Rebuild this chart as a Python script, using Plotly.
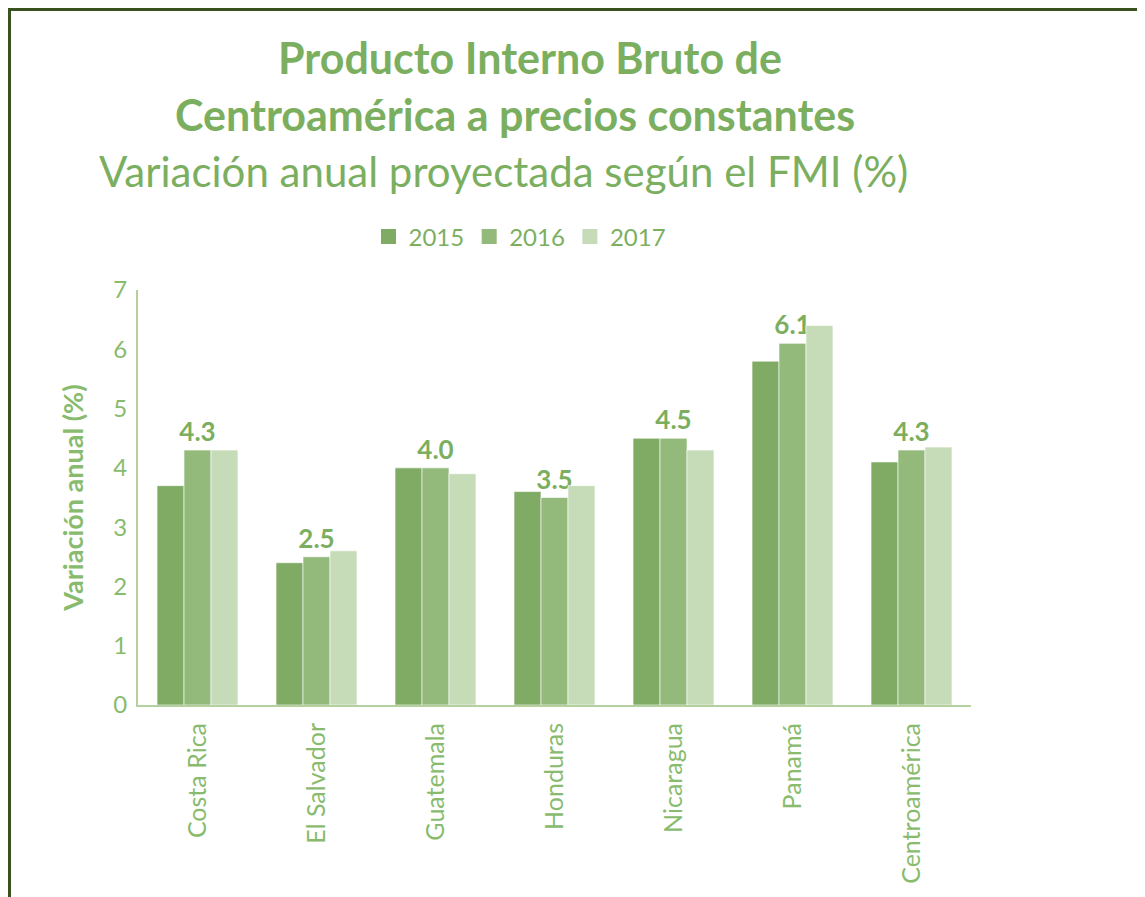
import plotly.graph_objects as go

categories = ["Costa Rica", "El Salvador", "Guatemala", "Honduras", "Nicaragua", "Panamá", "Centroamérica"]
years = ["2015", "2016", "2017"]
v2015 = [3.7, 2.4, 4.0, 3.6, 4.5, 5.8, 4.1]
v2016 = [4.3, 2.5, 4.0, 3.5, 4.5, 6.1, 4.3]
v2017 = [4.3, 2.6, 3.9, 3.7, 4.3, 6.4, 4.35]
labels2016 = ["4.3", "2.5", "4.0", "3.5", "4.5", "6.1", "4.3"]

colors = ["#80AB65", "#93BA7B", "#C6DBB8"]
title_green = "#7BAF5F"
tick_green = "#88BB6D"
axis_green = "#B2D19F"
font = "Lato"

fig = go.Figure()
for name, vals, col in zip(years, [v2015, v2016, v2017], colors):
    kw = {}
    if name == "2016":
        kw = dict(text=labels2016, textposition="outside", cliponaxis=False, constraintext="none",
                  textfont=dict(family=font, size=26, color=title_green, weight="bold"))
    fig.add_trace(go.Bar(x=categories, y=vals, name=name, marker_color=col, showlegend=False,
                         legendgroup=name,
                         marker_line=dict(color="rgba(255,255,255,0.6)", width=1), **kw))
# legend entries with larger square swatches
for name, col in zip(years, colors):
    fig.add_trace(go.Scatter(x=[None], y=[None], mode="markers", name=name, legendgroup=name,
                             marker=dict(symbol="square", size=15, color=col)))

OFF = 8  # page body margin
W, H = 1145 - OFF, 897 - OFF
L, R, T, B = 138 - OFF, 971 - OFF, 290 - OFF, 705 - OFF
pw, ph = R - L, B - T

def px(x):
    return (x - OFF - L) / pw

def py(y):
    return (B - (y - OFF)) / ph

fig.update_layout(
    width=W, height=H,
    margin=dict(l=L, r=W - R, t=T, b=H - B, pad=0),
    paper_bgcolor="white", plot_bgcolor="white",
    barmode="group", bargap=0.32, bargroupgap=0,
    font=dict(family=font, color=tick_green),
    showlegend=True,
    legend=dict(orientation="h", x=px(520), xanchor="center", y=py(237), yanchor="middle",
                font=dict(family=font, size=24, color=title_green), itemwidth=30,
                traceorder="normal"),
    xaxis=dict(range=[-0.5, 6.5], tickangle=-90, showline=True, linecolor=axis_green, linewidth=2,
               ticks="", ticklabelstandoff=6,
               tickfont=dict(family=font, size=25, color=tick_green), showgrid=False),
    yaxis=dict(range=[0, 7], dtick=1, showline=True, linecolor=axis_green, linewidth=2,
               showgrid=False, zeroline=False, ticks="", ticklabelstandoff=4,
               tickfont=dict(family=font, size=24, color=tick_green),
               title=dict(text="Variación anual (%)", standoff=22,
                          font=dict(family=font, size=27, color=tick_green, weight="bold"))),
    annotations=[
        dict(text="<b>Producto Interno Bruto de</b>", xref="paper", yref="paper",
             x=px(530), y=py(57), xanchor="center", yanchor="middle", showarrow=False,
             font=dict(family=font, size=43, color=title_green)),
        dict(text="<b>Centroamérica a precios constantes</b>", xref="paper", yref="paper",
             x=px(515), y=py(114), xanchor="center", yanchor="middle", showarrow=False,
             font=dict(family=font, size=43, color=title_green)),
        dict(text="Variación anual proyectada según el FMI (%)", xref="paper", yref="paper",
             x=px(503), y=py(171), xanchor="center", yanchor="middle", showarrow=False,
             font=dict(family=font, size=42, color=title_green)),
    ],
    shapes=[
        dict(type="line", xref="paper", yref="paper", x0=px(7), x1=px(1145), y0=py(9.5), y1=py(9.5),
             line=dict(color="#3A521F", width=3)),
        dict(type="line", xref="paper", yref="paper", x0=px(9.5), x1=px(9.5), y0=py(8), y1=py(897),
             line=dict(color="#3A521F", width=3)),
    ],
)

fig.write_html("out.html")
